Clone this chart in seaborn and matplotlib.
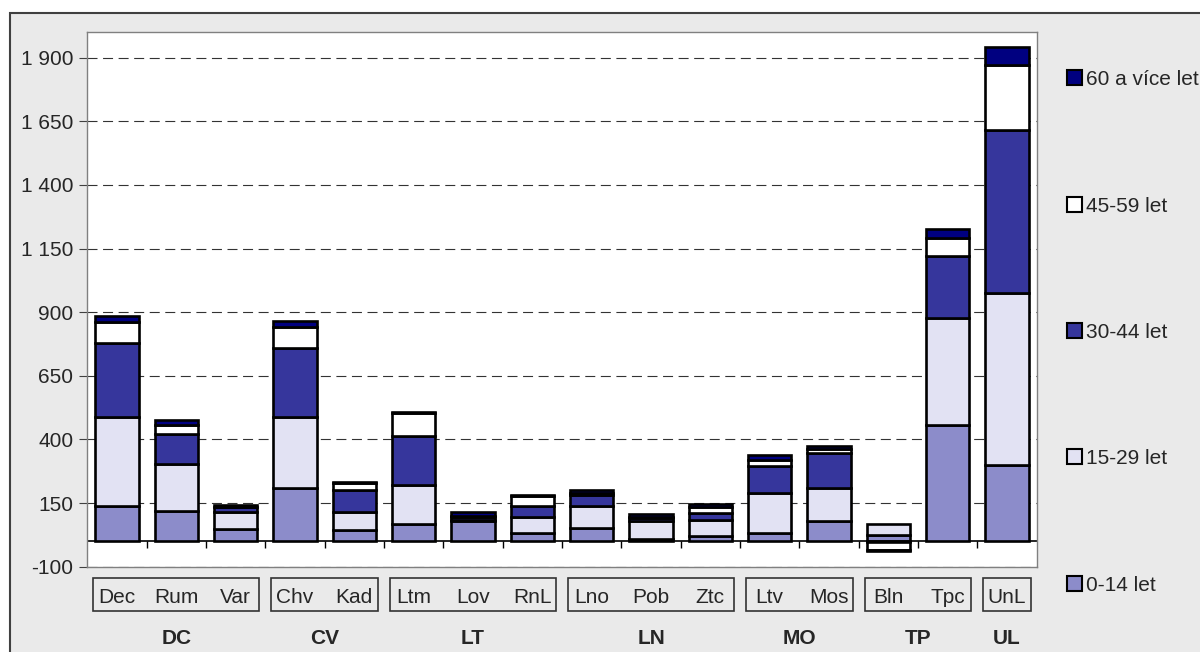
import numpy as np
import seaborn as sns
import matplotlib.pyplot as plt
from matplotlib.patches import Rectangle
from matplotlib.ticker import FuncFormatter

# municipalities (bars) and their districts
cats = ["Dec", "Rum", "Var", "Chv", "Kad", "Ltm", "Lov", "RnL",
        "Lno", "Pob", "Ztc", "Ltv", "Mos", "Bln", "Tpc", "UnL"]
group_names = ["DC", "CV", "LT", "LN", "MO", "TP", "UL"]
group_sizes = [3, 2, 3, 3, 2, 2, 1]

# age groups, bottom to top of the stack
age_0_14 = [140, 117, 49, 208, 46, 66, 78, 33, 54, 7, 22, 33, 78, 24, 458, 301]
age_15_29 = [347, 185, 65, 279, 68, 154, 4, 63, 86, 72, 63, 157, 130, 42, 418, 673]
age_30_44 = [291, 121, 20, 272, 89, 192, 12, 44, 40, 14, 25, 105, 139, -4, 245, 644]
age_45_59 = [84, 32, 2, 81, 25, 92, 4, 37, 8, 4, 24, 23, 16, -32, 72, 254]
age_60 = [25, 23, 5, 27, 4, 2, 18, 3, 12, 12, 14, 19, 13, -3, 35, 70]

series_names = ["0-14 let", "15-29 let", "30-44 let", "45-59 let", "60 a více let"]
series_vals = [age_0_14, age_15_29, age_30_44, age_45_59, age_60]
colors = ["#8c8cca", "#e2e2f3", "#36369c", "#ffffff", "#000080"]

yticks = list(range(-100, 2000, 250))

sns.set_theme(style="white")
plt.rcParams['font.family'] = ['Liberation Sans', 'DejaVu Sans']

W, H = 1200, 652
fig = plt.figure(figsize=(W / 100, H / 100), dpi=100, facecolor="white")
fig.patches.append(Rectangle((10 / W, -0.01), 1.0, 1 - 13 / H + 0.01,
                             transform=fig.transFigure, facecolor="#eaeaea",
                             edgecolor="#404040", lw=1.5, zorder=-1))

ax = fig.add_axes([87.3 / W, 1 - 566.7 / H, (1036.7 - 87.3) / W, (566.7 - 32.3) / H])
ax.set_facecolor("white")

# stacked bars, negatives stack downwards from zero
pos_base = np.zeros(len(cats))
neg_base = np.zeros(len(cats))
for name, vals, col in zip(series_names, series_vals, colors):
    vals = np.array(vals, dtype=float)
    bottom = np.where(vals >= 0, pos_base, neg_base)
    sns.barplot(x=cats, y=vals, bottom=bottom, color=col, saturation=1,
                width=0.73, edgecolor="black", linewidth=1.9,
                errorbar=None, ax=ax, zorder=3)
    pos_base += np.clip(vals, 0, None)
    neg_base += np.clip(vals, None, 0)

ax.set_xlim(-0.5, len(cats) - 0.5)
ax.set_ylim(-100, 2000)
ax.set_yticks(yticks)
ax.yaxis.set_major_formatter(FuncFormatter(lambda v, p: f"{int(v):,}".replace(",", " ")))
ax.yaxis.grid(True, linestyle=(0, (9, 5)), color="#333333", linewidth=0.8)
ax.set_axisbelow(True)
ax.tick_params(axis="y", left=True, direction="out", length=6, width=0.8,
               color="#404040", labelsize=15, pad=4)
ax.set_xticks([])
ax.set_xlabel("")
ax.set_ylabel("")
for s in ax.spines.values():
    s.set_color("#808080")
    s.set_linewidth(1)

# category axis at zero with tick marks between bars
ax.axhline(0, color="black", lw=1.2, zorder=2)
ax.vlines(np.arange(0.5, len(cats) - 1), 0, -27, color="black", lw=1, zorder=2)

# two-level category labels
trans = ax.get_xaxis_transform()
start = 0
for g, n in zip(group_names, group_sizes):
    first, last = start, start + n - 1
    ax.add_patch(Rectangle((first - 0.4, -0.0823), last - first + 0.8, 0.0617,
                           transform=trans, fill=False, edgecolor="#333333",
                           lw=1.2, clip_on=False))
    for i in range(first, last + 1):
        ax.text(i, -0.058, cats[i], transform=trans, ha="center", va="center", fontsize=15)
    ax.text((first + last) / 2, -0.134, g, transform=trans, ha="center",
            va="center", fontsize=15, fontweight="bold")
    start += n

# legend on the right, top entry = oldest group
for k, (lab, col) in enumerate(list(zip(series_names, colors))[::-1]):
    yc = 77.7 + k * 126.4
    fig.patches.append(Rectangle((1067 / W, 1 - (yc + 7.5) / H), 15 / W, 15 / H,
                                 transform=fig.transFigure, facecolor=col,
                                 edgecolor="black", lw=1.5))
    fig.text(1086 / W, 1 - yc / H, lab, fontsize=15, va="center_baseline")

fig.savefig("out.png", dpi=100)
